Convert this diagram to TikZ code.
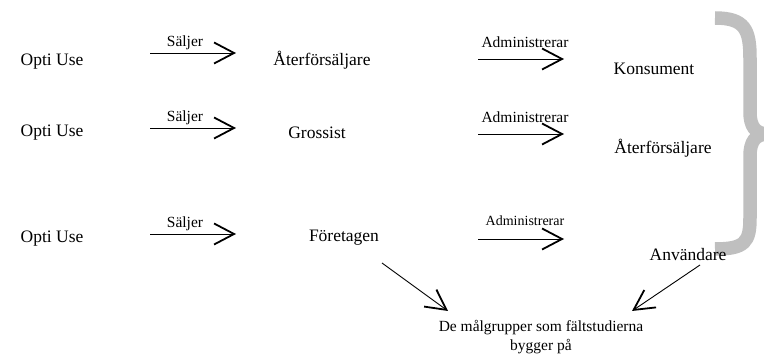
\documentclass[tikz,border=0pt]{standalone}
\usepackage{fontspec}
\setmainfont{Liberation Serif}
\usepackage{tikz}
\usetikzlibrary{arrows.meta,positioning,calc}

\begin{document}
\begin{tikzpicture}[
      x=1pt, y=-1pt,
      every node/.style={inner sep=0pt, anchor=center},
      txt/.style={font=\fontsize{17.5}{20}\selectfont},
      lbl/.style={font=\fontsize{15.5}{18}\selectfont},
      lblsmall/.style={font=\fontsize{14}{17}\selectfont},
      pil/.style={line width=0.9pt, -{Straight Barb[length=20pt, width=21pt, line width=1.8pt]}},
      klammer/.style={draw=gray!50, line width=13.5pt}
    ]
  \useasboundingbox (0,0) rectangle (764,358);

  % --- Vänster del: Opti Use säljer till ---
  \foreach \i/\yt/\ya in {1/62/53, 2/133/128, 3/239/234} {
    \node[txt] (opti\i) at (52,\yt) {Opti Use};
    \coordinate (sa\i) at (150,\ya);
    \coordinate (sb\i) at (236,\ya);
    \draw[pil] (sa\i) -- (sb\i);
    \node[lbl] (salj\i) at (185,\ya-10) {Säljer};
  }

  \node[txt] (afors1) at (322,60)  {Återförsäljare};
  \node[txt] (gross)  at (317,133) {Grossist};
  \node[txt] (foret)  at (344,238) {Företagen};

  % --- Höger del: administrerar ---
  \foreach \i/\ya in {1/59, 2/134, 3/239} {
    \coordinate (aa\i) at (478,\ya);
    \coordinate (ab\i) at (564,\ya);
    \draw[pil] (aa\i) -- (ab\i);
  }
  \node[lbl]      (adm1) at (525,42)  {Administrerar};
  \node[lbl]      (adm2) at (525,117) {Administrerar};
  \node[lblsmall] (adm3) at (525,221) {Administrerar};

  % klammer (under texten Användare)
  \draw[klammer] (715,18) .. controls (745,18) and (750,30) .. (750,58)
    -- (750,112) .. controls (750,126) and (755,134) .. (768,134)
    .. controls (755,134) and (750,142) .. (750,156)
    -- (750,218) .. controls (750,242) and (745,249) .. (715,249);

  \node[txt] (kons)   at (654,69)  {Konsument};
  \node[txt] (afors2) at (663,148) {Återförsäljare};
  \node[txt] (anv)    at (688,255) {Användare};

  % --- Målgrupper ---
  \node[align=center, font=\fontsize{15.5}{19}\selectfont] (mal) at (541,337)
    {De målgrupper som fältstudierna\\bygger på};
  \coordinate (v1) at (382,263);
  \coordinate (v2) at (448,311);
  \coordinate (h1) at (700,265);
  \coordinate (h2) at (632,311);
  \draw[pil] (v1) -- (v2);
  \draw[pil] (h1) -- (h2);
\end{tikzpicture}
\end{document}
